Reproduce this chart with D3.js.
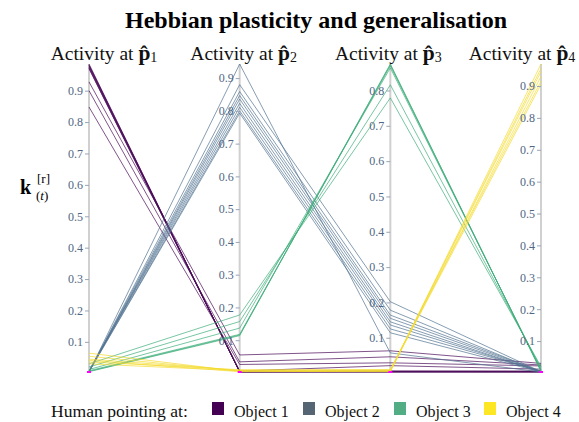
<!DOCTYPE html>
<html>
<head>
<meta charset="utf-8">
<script src="https://cdn.jsdelivr.net/npm/d3@7"></script>
<style>
  body { margin: 0; background: #fff; }
  svg text { font-family: "Liberation Serif", "DejaVu Serif", serif; }
</style>
</head>
<body>
<div id="chart"></div>
<script>
// one entry per trial line: activity at each of the four probe positions
const groups = [1,1,1,1,1,1,1,1,1,1, 2,2,2,2,2,2,2,2,2, 3,3,3,3,3,3, 4,4,4,4,4,4];
const act1 = [0.985,0.982,0.980,0.978,0.975,0.972,0.970,0.928,0.900,0.848,
              0.004,0.005,0.006,0.004,0.005,0.006,0.007,0.005,0.004,
              0.005,0.006,0.008,0.012,0.020,0.030,
              0.064,0.054,0.045,0.041,0.036,0.030];
const act2 = [0.003,0.004,0.003,0.005,0.004,0.003,0.006,0.055,0.034,0.026,
              0.943,0.880,0.859,0.847,0.836,0.823,0.811,0.800,0.793,
              0.114,0.116,0.118,0.137,0.157,0.177,
              0.005,0.006,0.008,0.004,0.010,0.007];
const act3 = [0.003,0.004,0.003,0.005,0.004,0.006,0.021,0.063,0.046,0.029,
              0.057,0.202,0.178,0.164,0.155,0.145,0.136,0.125,0.114,
              0.875,0.873,0.870,0.864,0.816,0.779,
              0.004,0.006,0.008,0.005,0.010,0.007];
const act4 = [0.003,0.004,0.003,0.005,0.004,0.006,0.012,0.030,0.025,0.022,
              0.003,0.004,0.003,0.005,0.004,0.003,0.004,0.005,0.003,
              0.005,0.006,0.008,0.010,0.015,0.020,
              0.969,0.955,0.945,0.930,0.915,0.905];
const dims = ["1", "2", "3", "4"];
const objects = ["Object 1", "Object 2", "Object 3", "Object 4"];
const swatch = ["#440154", "#556574", "#53ad84", "#fde725"];
const lineCol = ["#4b0c5a", "#527492", "#3fae7a", "#f4dc30"];
const ticks = [0.1,0.2,0.3,0.4,0.5,0.6,0.7,0.8,0.9];

const W = 579, H = 422;
const svg = d3.select("#chart").append("svg").attr("width", W).attr("height", H);

const cols = [act1, act2, act3, act4];
const x = d3.scalePoint().domain(dims).range([89, 541]);
const ys = cols.map(c => d3.scaleLinear().domain(d3.extent(c)).range([372, 64]));

const rows = groups.map((g, i) => ({ g, v: cols.map(c => c[i]) }));

const line = d3.line().x((d, j) => x(dims[j])).y((d, j) => ys[j](d));

// axis lines
dims.forEach((d, j) => {
  svg.append("line").attr("x1", x(d)).attr("x2", x(d))
    .attr("y1", 64).attr("y2", 372)
    .attr("stroke", "#d0d0d0").attr("stroke-width", 2);
});

// trial lines
svg.append("g").selectAll("path").data(rows).enter().append("path")
  .attr("d", d => line(d.v))
  .attr("fill", "none")
  .attr("stroke", d => lineCol[d.g - 1])
  .attr("stroke-width", 1)
  .attr("opacity", 0.7);

// title offsets: plotly pulls the outer titles inward
const titleShift = [15, 4, -2, -19];

dims.forEach((d, j) => {
  const tv = ticks.filter(t => t <= ys[j].domain()[1] && t >= ys[j].domain()[0]);
  const ax = svg.append("g").attr("transform", `translate(${x(d)},0)`)
    .call(d3.axisLeft(ys[j]).tickValues(tv).tickFormat(d3.format(".1f")).tickSize(4).tickPadding(2));
  ax.select(".domain").remove();
  ax.selectAll(".tick line").attr("stroke", "#9aa5b8");
  ax.selectAll(".tick text").attr("fill", "#506784").attr("font-size", 12);
  svg.append("rect").attr("x", x(d) - 2).attr("y", 371).attr("width", 4).attr("height", 2)
    .attr("fill", "#ff00ff");

  const t = svg.append("text").attr("x", x(d) + titleShift[j]).attr("y", 60)
    .attr("text-anchor", "middle").attr("font-size", 19.5).attr("fill", "#111");
  t.append("tspan").text("Activity at ");
  t.append("tspan").attr("font-weight", "bold").attr("font-size", 21.5).text("p\u0302");
  t.append("tspan").attr("font-size", 14).attr("dy", 2).text(d);
});

// title
svg.append("text").attr("x", 316).attr("y", 28).attr("text-anchor", "middle")
  .attr("font-size", 24).attr("font-weight", "bold").attr("fill", "#000")
  .text("Hebbian plasticity and generalisation");

// y label  k^{[r]}_{(t)}
const yl = svg.append("g");
yl.append("text").attr("x", 20).attr("y", 194).attr("font-size", 20).attr("font-weight", "bold").text("k");
yl.append("text").attr("x", 37).attr("y", 183).attr("font-size", 13).text("[r]");
yl.append("text").attr("x", 36).attr("y", 200).attr("font-size", 13).html("(<tspan font-style='italic'>t</tspan>)");

// legend
const lg = svg.append("g");
lg.append("text").attr("x", 51).attr("y", 417).attr("font-size", 17.6).attr("fill", "#111")
  .text("Human pointing at:");
const tx = [234, 325, 416, 506];
objects.forEach((o, i) => {
  lg.append("rect").attr("x", tx[i] - 22).attr("y", 402).attr("width", 12).attr("height", 13)
    .attr("fill", swatch[i]);
  lg.append("text").attr("x", tx[i]).attr("y", 417).attr("font-size", 16).attr("fill", "#111")
    .text(o);
});
</script>
</body>
</html>
